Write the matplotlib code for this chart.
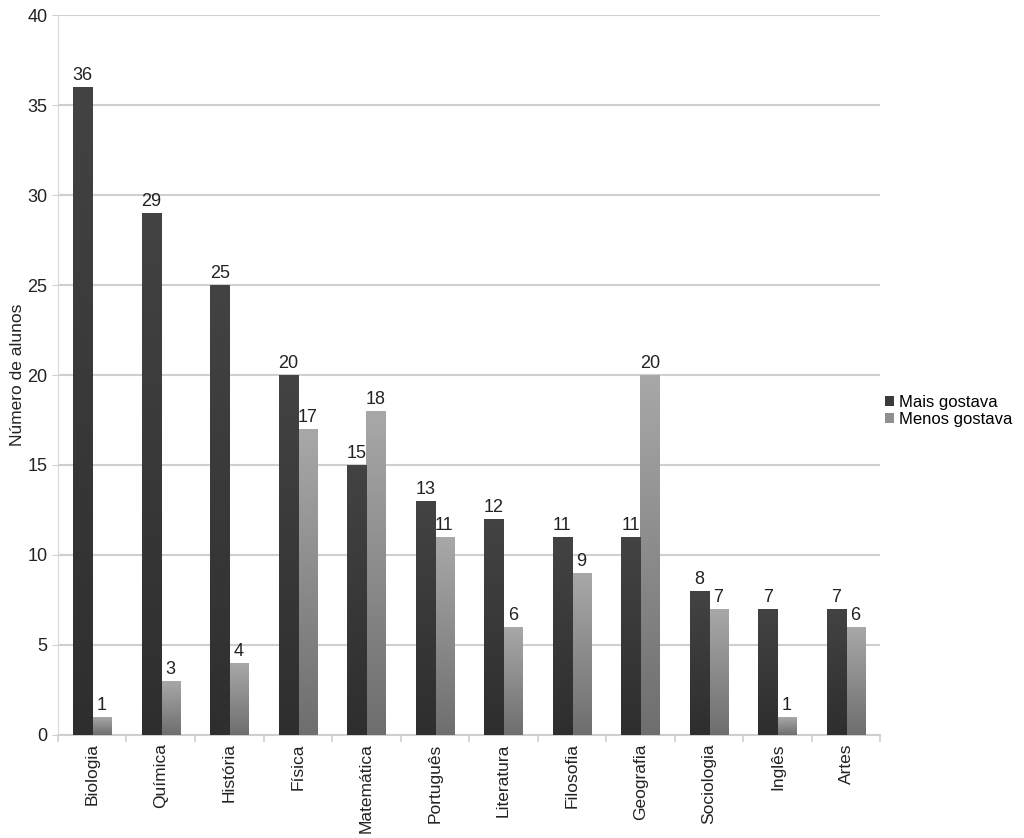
import matplotlib
matplotlib.use("Agg")
import matplotlib.pyplot as plt
import numpy as np
from matplotlib.colors import LinearSegmentedColormap

categorias = ["Biologia", "Química", "História", "Física", "Matemática", "Português",
              "Literatura", "Filosofia", "Geografia", "Sociologia", "Inglês", "Artes"]
mais_gostava = [36, 29, 25, 20, 15, 13, 12, 11, 11, 8, 7, 7]
menos_gostava = [1, 3, 4, 17, 18, 11, 6, 9, 20, 7, 1, 6]
serie_nomes = ["Mais gostava", "Menos gostava"]

plt.rcParams['font.family'] = ['Liberation Sans', 'DejaVu Sans']

fig = plt.figure(figsize=(10.24, 8.38), dpi=100)
ax = fig.add_axes([0.0566, 0.123, 0.803, 0.859])

x = np.arange(len(categorias))
w = 0.28
dark = "#3a3a3a"
light = "#8f8f8f"

b1 = ax.bar(x - w/2, mais_gostava, w, color=dark, label=serie_nomes[0], zorder=3)
b2 = ax.bar(x + w/2, menos_gostava, w, color=light, label=serie_nomes[1], zorder=3)

grad = np.linspace(0, 1, 256).reshape(-1, 1)
cmap = LinearSegmentedColormap.from_list("g", ["#6e6e6e", "#a8a8a8"])
for r in b2:
    x0, y0 = r.get_x(), r.get_y()
    im = ax.imshow(grad, extent=[x0, x0 + r.get_width(), y0, y0 + r.get_height()],
                   origin="lower", cmap=cmap, aspect="auto", zorder=3.5)
    im.set_clip_path(r)
cmap2 = LinearSegmentedColormap.from_list("g2", ["#2e2e2e", "#434343"])
for r in b1:
    x0, y0 = r.get_x(), r.get_y()
    im = ax.imshow(grad, extent=[x0, x0 + r.get_width(), y0, y0 + r.get_height()],
                   origin="lower", cmap=cmap2, aspect="auto", zorder=3.5)
    im.set_clip_path(r)

for r, v in zip(b1, mais_gostava):
    ax.text(r.get_x() + r.get_width()/2, v + 0.15, str(v), ha="center", va="bottom",
            fontsize=13, color="#222222", zorder=5)
for r, v in zip(b2, menos_gostava):
    ax.text(r.get_x() + r.get_width()/2, v + 0.15, str(v), ha="center", va="bottom",
            fontsize=13, color="#222222", zorder=5)

ax.set_xlim(-0.5, len(categorias) - 0.5)
ax.set_ylim(0, 40)
ax.set_yticks(range(0, 41, 5))
ax.yaxis.grid(True, color="#cfcfcf", linewidth=1.5, zorder=0)
ax.set_axisbelow(True)

ax.set_xticks(x)
ax.set_xticklabels(categorias, rotation=90, fontsize=12.5, color="#222222")
ax.tick_params(axis="x", length=0, pad=6)
ax.set_xticks(np.arange(-0.5, len(categorias), 1), minor=True)
ax.tick_params(axis="x", which="minor", length=5, color="#cfcfcf", width=1.2)
ax.tick_params(axis="y", labelsize=13, length=4, color="#cfcfcf", labelcolor="#222222")

for s in ["top", "right"]:
    ax.spines[s].set_visible(False)
ax.spines["left"].set_color("#d8d8d8")
ax.spines["bottom"].set_color("#cfcfcf")
ax.spines["bottom"].set_linewidth(1.5)

ax.set_ylabel("Número de alunos", fontsize=12.5, color="#222222", labelpad=2)

leg = ax.legend(loc="center left", bbox_to_anchor=(0.988, 0.45), frameon=False,
                fontsize=12, handlelength=0.5, handleheight=0.5, handletextpad=0.3,
                labelspacing=0.1)

fig.savefig("out.png", dpi=100, facecolor="white")
